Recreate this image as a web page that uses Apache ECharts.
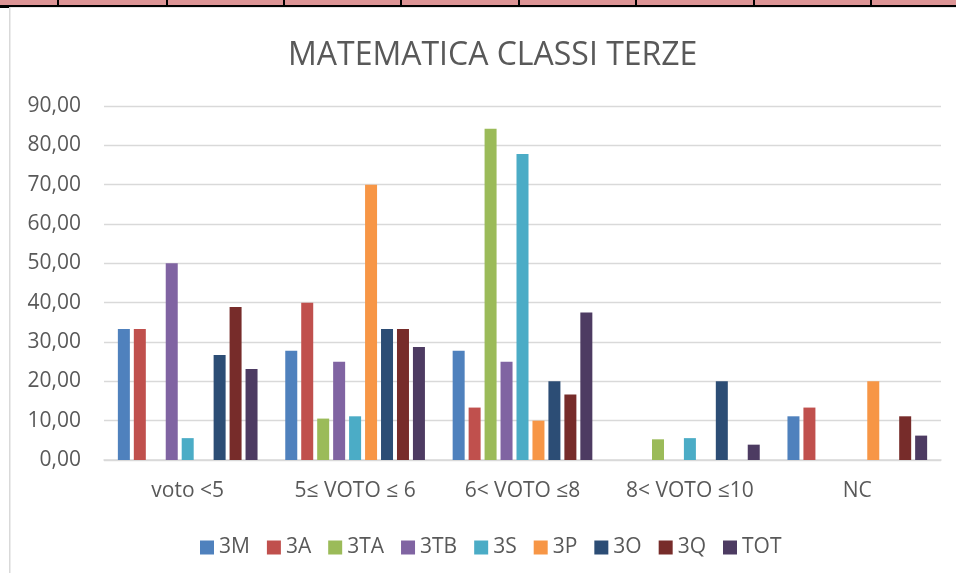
<!DOCTYPE html>
<html>
<head>
<meta charset="utf-8">
<script src="https://cdn.jsdelivr.net/npm/echarts@6/dist/echarts.min.js"></script>
<style>
html, body { margin: 0; padding: 0; background: #fff; }
#chart1 { width: 956px; height: 573px; }
</style>
</head>
<body>
<div id="chart1"></div>
<script>
var categories = ['voto <5', '5\u2264 VOTO \u2264 6', '6< VOTO \u22648', '8< VOTO \u226410', 'NC'];
var s3M  = [33.33, 27.78, 27.78, 0, 11.11];
var s3A  = [33.33, 40.00, 13.33, 0, 13.33];
var s3TA = [0, 10.53, 84.21, 5.26, 0];
var s3TB = [50.00, 25.00, 25.00, 0, 0];
var s3S  = [5.56, 11.11, 77.78, 5.56, 0];
var s3P  = [0, 70.00, 10.00, 0, 20.00];
var s3O  = [26.67, 33.33, 20.00, 20.00, 0];
var s3Q  = [38.89, 33.33, 16.67, 0, 11.11];
var sTOT = [23.15, 28.70, 37.50, 3.90, 6.20];
var seriesNames = ['3M', '3A', '3TA', '3TB', '3S', '3P', '3O', '3Q', 'TOT'];
var seriesData = [s3M, s3A, s3TA, s3TB, s3S, s3P, s3O, s3Q, sTOT];
var yTicks = [0, 10, 20, 30, 40, 50, 60, 70, 80, 90];

var font = '"Open Sans", "Liberation Sans", sans-serif';
var grey = '#595959';

// top strip of the spreadsheet behind the chart
var cellBorders = [58, 167, 284, 401, 519, 636, 754, 871];
var graphics = [
	{ type: 'rect', shape: { x: 0, y: 0, width: 956, height: 5 }, style: { fill: '#dc9495' } },
	{ type: 'rect', shape: { x: 0, y: 5, width: 956, height: 2 }, style: { fill: '#000' } },
	{ type: 'rect', shape: { x: 0, y: 7, width: 9, height: 1 }, style: { fill: '#000' } },
	{ type: 'rect', shape: { x: 9, y: 7, width: 947, height: 1 }, style: { fill: '#e4e4e4' } },
	{ type: 'rect', shape: { x: 9, y: 7, width: 1.5, height: 566 }, style: { fill: '#d9d9d9' } }
];
cellBorders.forEach(function (x) {
	graphics.push({ type: 'rect', shape: { x: x - 1, y: 0, width: 2, height: 5 }, style: { fill: '#000' } });
});

var series = seriesNames.map(function (name, i) {
	return {
		name: name,
		type: 'bar',
		data: seriesData[i],
		barWidth: 12,
		barGap: '33%'
	};
});

var option = {
	animation: false,
	backgroundColor: '#fff',
	color: ['#4f81bd', '#c0504d', '#9bbb59', '#8064a2', '#4bacc6', '#f79646', '#2c4d75', '#772c2a', '#4d3b62'],
	title: {
		text: 'MATEMATICA CLASSI TERZE',
		left: 283,
		top: 35,
		textStyle: { fontFamily: font, fontSize: 32, fontWeight: 'normal', color: grey }
	},
	legend: {
		data: seriesNames,
		left: 200,
		top: 537,
		padding: 0,
		icon: 'rect',
		itemWidth: 14,
		itemHeight: 14,
		itemGap: 17,
		textStyle: { fontFamily: font, fontSize: 21, color: grey }
	},
	grid: { left: 104, right: 15, top: 106, bottom: 113, containLabel: false },
	xAxis: {
		type: 'category',
		data: categories,
		axisTick: { show: false },
		axisLine: { lineStyle: { color: '#d9d9d9', width: 1.5 } },
		axisLabel: { fontFamily: font, fontSize: 21, color: grey, margin: 21 }
	},
	yAxis: {
		type: 'value',
		min: yTicks[0],
		max: yTicks[yTicks.length - 1],
		interval: yTicks[1] - yTicks[0],
		axisLine: { show: false },
		axisTick: { show: false },
		splitLine: { lineStyle: { color: '#d9d9d9', width: 1.3 } },
		axisLabel: {
			fontFamily: font, fontSize: 21, color: grey, margin: 23,
			formatter: function (v) { return v.toFixed(2).replace('.', ','); }
		}
	},
	graphic: graphics,
	series: series
};
var chart1 = echarts.init(document.getElementById('chart1'));
chart1.setOption(option);
</script>
</body>
</html>
